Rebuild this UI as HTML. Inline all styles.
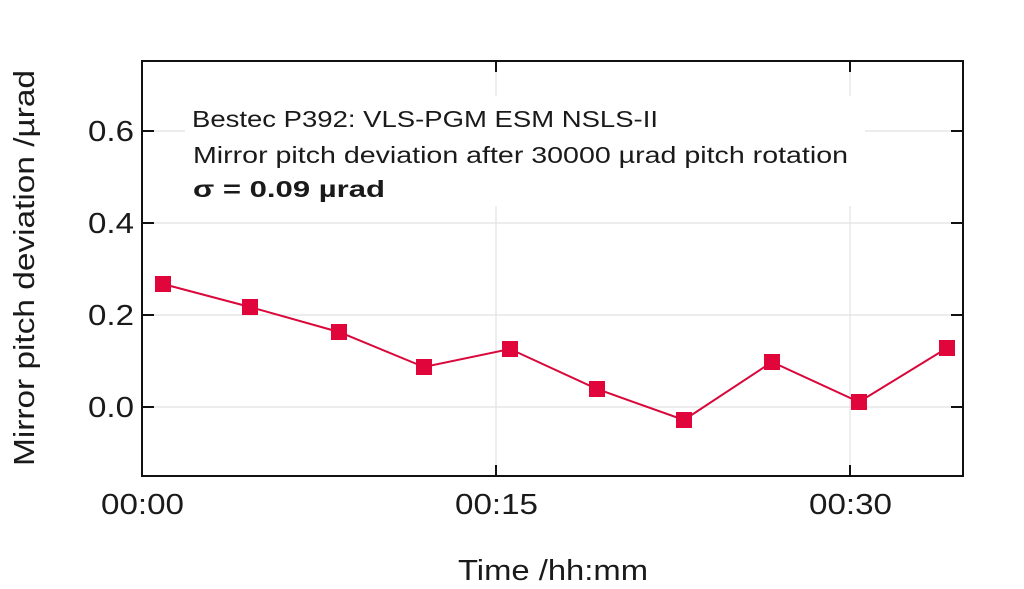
<!DOCTYPE html>
<html><head><meta charset="utf-8"><style>
html,body{margin:0;padding:0;background:#fff;}
svg{display:block;}
text{font-family:"Liberation Sans","DejaVu Sans",sans-serif;fill:#1a1a1a;}
</style></head><body>
<svg width="1024" height="589" viewBox="0 0 1024 589" xmlns="http://www.w3.org/2000/svg">
<rect width="1024" height="589" fill="#fff"/>
<g stroke="#e2e2e2" stroke-width="1.2">
<line x1="142" y1="131" x2="963" y2="131"/>
<line x1="142" y1="223" x2="963" y2="223"/>
<line x1="142" y1="315" x2="963" y2="315"/>
<line x1="142" y1="407" x2="963" y2="407"/>
<line x1="496" y1="61" x2="496" y2="476"/>
<line x1="850" y1="61" x2="850" y2="476"/>
</g>
<rect x="185" y="96" width="680" height="110" fill="#fff"/>
<rect x="142" y="61" width="821" height="415" fill="none" stroke="#111" stroke-width="2"/>
<g stroke="#111" stroke-width="2">
<line x1="142" y1="131" x2="154" y2="131"/><line x1="963" y1="131" x2="951" y2="131"/>
<line x1="142" y1="223" x2="154" y2="223"/><line x1="963" y1="223" x2="951" y2="223"/>
<line x1="142" y1="315" x2="154" y2="315"/><line x1="963" y1="315" x2="951" y2="315"/>
<line x1="142" y1="407" x2="154" y2="407"/><line x1="963" y1="407" x2="951" y2="407"/>
<line x1="496" y1="476" x2="496" y2="465"/><line x1="496" y1="61" x2="496" y2="72"/>
<line x1="850" y1="476" x2="850" y2="465"/><line x1="850" y1="61" x2="850" y2="72"/>
</g>
<g font-size="29">
<text x="88" y="141" textLength="46" lengthAdjust="spacingAndGlyphs">0.6</text>
<text x="88" y="233" textLength="46" lengthAdjust="spacingAndGlyphs">0.4</text>
<text x="88" y="325" textLength="46" lengthAdjust="spacingAndGlyphs">0.2</text>
<text x="88" y="417" textLength="46" lengthAdjust="spacingAndGlyphs">0.0</text>
</g>
<g font-size="29">
<text x="101" y="514" textLength="83" lengthAdjust="spacingAndGlyphs">00:00</text>
<text x="455" y="514" textLength="83" lengthAdjust="spacingAndGlyphs">00:15</text>
<text x="809" y="514" textLength="83" lengthAdjust="spacingAndGlyphs">00:30</text>
<text x="458" y="580" textLength="190" lengthAdjust="spacingAndGlyphs">Time /hh:mm</text>
</g>
<text font-size="29" transform="translate(34,466) rotate(-90)" textLength="396" lengthAdjust="spacingAndGlyphs">Mirror pitch deviation /µrad</text>
<text x="192" y="127" font-size="23" textLength="466" lengthAdjust="spacingAndGlyphs">Bestec P392: VLS-PGM ESM NSLS-II</text>
<text x="193" y="163" font-size="23" textLength="655" lengthAdjust="spacingAndGlyphs">Mirror pitch deviation after 30000 µrad pitch rotation</text>
<text x="193" y="197" font-size="23" font-weight="bold" textLength="192" lengthAdjust="spacingAndGlyphs">σ  = 0.09 µrad</text>
<polyline fill="none" stroke="#d9073a" stroke-width="2" points="163,284 250,307 339,332 424,367 510,349 597,389 684,420 772,362 859,402 947,348"/>
<g fill="#e0063c">
<rect x="155" y="276" width="16" height="16"/>
<rect x="242" y="299" width="16" height="16"/>
<rect x="331" y="324" width="16" height="16"/>
<rect x="416" y="359" width="16" height="16"/>
<rect x="502" y="341" width="16" height="16"/>
<rect x="589" y="381" width="16" height="16"/>
<rect x="676" y="412" width="16" height="16"/>
<rect x="764" y="354" width="16" height="16"/>
<rect x="851" y="394" width="16" height="16"/>
<rect x="939" y="340" width="16" height="16"/>
</g>
</svg>
</body></html>
